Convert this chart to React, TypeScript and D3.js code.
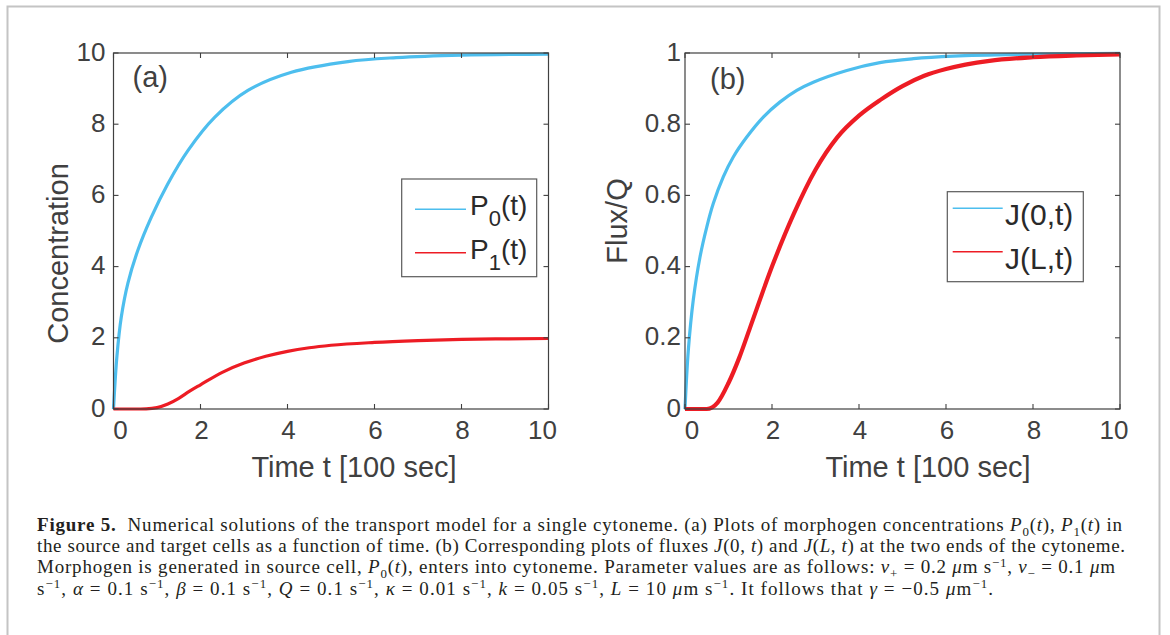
import React from 'react';
import * as d3 from 'd3';

// panel (a): concentrations
const timeP0 = [0, 0.08, 0.18, 0.33, 0.56, 0.87, 1.25, 1.71, 2.33, 3.09, 4.09, 5.39, 6.5, 8, 10];
const p0 = [0, 1.5, 2.59, 3.53, 4.46, 5.39, 6.33, 7.26, 8.2, 8.95, 9.46, 9.76, 9.87, 9.94, 9.97];
const timeP1 = [0, 0.5, 0.75, 1, 1.25, 1.5, 1.75, 2, 2.5, 3, 3.5, 4, 4.5, 5, 6, 7, 8, 9, 10];
const p1 = [0, 0, 0.005, 0.04, 0.14, 0.3, 0.5, 0.68, 1.03, 1.29, 1.48, 1.62, 1.72, 1.79, 1.87, 1.92, 1.955, 1.97, 1.98];

// panel (b): fluxes
const timeJ0 = [0, 0.077, 0.19, 0.345, 0.5, 0.65, 0.88, 1.11, 1.42, 1.8, 2.18, 2.57, 2.95, 3.72, 4.48, 5.25, 6.17, 7.7, 10];
const j0 = [0, 0.166, 0.306, 0.427, 0.511, 0.577, 0.652, 0.708, 0.764, 0.82, 0.862, 0.895, 0.918, 0.951, 0.973, 0.984, 0.991, 0.996, 0.999];
const timeJL = [0, 0.5, 0.75, 1, 1.25, 1.5, 2, 2.5, 3, 3.5, 4, 4.5, 5, 5.5, 6, 7, 8, 9, 10];
const jL = [0, 0, 0.018, 0.073, 0.145, 0.23, 0.4, 0.548, 0.672, 0.763, 0.824, 0.869, 0.907, 0.936, 0.955, 0.978, 0.988, 0.993, 0.996];

const xTicks = [0, 2, 4, 6, 8, 10];
const yTicksA = [0, 2, 4, 6, 8, 10];
const yTicksB = [0, 0.2, 0.4, 0.6, 0.8, 1];
const legendA = [['P', '0', '(t)'], ['P', '1', '(t)']];
const legendB = ['J(0,t)', 'J(L,t)'];

const BLUE = '#4DBEEE';
const RED = '#ED1C24';
const INK = '#404040';
const SANS = '"Liberation Sans", Arial, Helvetica, sans-serif';
const SERIF = '"Liberation Serif", "Times New Roman", serif';

type Seg = { t: string; i?: boolean; b?: boolean; sub?: boolean; sup?: boolean };

const caption: { segs: Seg[]; len: number }[] = [
  {
    len: 1085,
    segs: [
      { t: 'Figure 5.', b: true },
      { t: '  Numerical solutions of the transport model for a single cytoneme. (a) Plots of morphogen concentrations ' },
      { t: 'P', i: true }, { t: '0', sub: true }, { t: '(' }, { t: 't', i: true }, { t: '), ' },
      { t: 'P', i: true }, { t: '1', sub: true }, { t: '(' }, { t: 't', i: true }, { t: ') in' },
    ],
  },
  {
    len: 1088,
    segs: [
      { t: 'the source and target cells as a function of time. (b) Corresponding plots of fluxes ' },
      { t: 'J', i: true }, { t: '(0, ' }, { t: 't', i: true }, { t: ') and ' },
      { t: 'J', i: true }, { t: '(' }, { t: 'L', i: true }, { t: ', ' }, { t: 't', i: true },
      { t: ') at the two ends of the cytoneme.' },
    ],
  },
  {
    len: 1078,
    segs: [
      { t: 'Morphogen is generated in source cell, ' },
      { t: 'P', i: true }, { t: '0', sub: true }, { t: '(' }, { t: 't', i: true },
      { t: '), enters into cytoneme. Parameter values are as follows: ' },
      { t: 'ν', i: true }, { t: '+', sub: true }, { t: ' = 0.2 ' }, { t: 'μ', i: true }, { t: 'm s' },
      { t: '−1', sup: true }, { t: ', ' },
      { t: 'ν', i: true }, { t: '−', sub: true }, { t: ' = 0.1 ' }, { t: 'μ', i: true }, { t: 'm' },
    ],
  },
  {
    len: 956,
    segs: [
      { t: 's' }, { t: '−1', sup: true }, { t: ', ' },
      { t: 'α', i: true }, { t: ' = 0.1 s' }, { t: '−1', sup: true }, { t: ', ' },
      { t: 'β', i: true }, { t: ' = 0.1 s' }, { t: '−1', sup: true }, { t: ', ' },
      { t: 'Q', i: true }, { t: ' = 0.1 s' }, { t: '−1', sup: true }, { t: ', ' },
      { t: 'κ', i: true }, { t: ' = 0.01 s' }, { t: '−1', sup: true }, { t: ', ' },
      { t: 'k', i: true }, { t: ' = 0.05 s' }, { t: '−1', sup: true }, { t: ', ' },
      { t: 'L', i: true }, { t: ' = 10 ' }, { t: 'μ', i: true }, { t: 'm s' }, { t: '−1', sup: true },
      { t: '. It follows that ' },
      { t: 'γ', i: true }, { t: ' = −0.5 ' }, { t: 'μ', i: true }, { t: 'm' }, { t: '−1', sup: true }, { t: '.' },
    ],
  },
];

function RichLine({ segs, x, y, size, len }: { segs: Seg[]; x: number; y: number; size: number; len: number }) {
  let cur = 0;
  const nodes = segs.map((s, i) => {
    const target = s.sub ? size * 0.26 : s.sup ? -size * 0.36 : 0;
    const dy = target - cur;
    cur = target;
    return (
      <tspan
        key={i}
        dy={dy !== 0 ? dy : undefined}
        fontStyle={s.i ? 'italic' : undefined}
        fontWeight={s.b ? 'bold' : undefined}
        fontSize={s.sub || s.sup ? size * 0.68 : undefined}
      >
        {s.t}
      </tspan>
    );
  });
  return (
    <text x={x} y={y} fontSize={size} fontFamily={SERIF} fill="#231f20" textLength={len} lengthAdjust="spacing" style={{ whiteSpace: 'pre' }}>
      {nodes}
    </text>
  );
}

type Series = { t: number[]; v: number[]; color: string; width: number; smooth: boolean };

type PanelProps = {
  left: number;
  right: number;
  yMax: number;
  yTicks: number[];
  yFmt: (v: number) => string;
  yLabelGap: number;
  series: Series[];
  tag: string;
  tagX: number;
  tagY: number;
  yTitle: string;
  yTitleX: number;
  yTitleY: number;
  xTitleX: number;
};

const TOP = 53;
const BOTTOM = 409;

function Panel(p: PanelProps) {
  const x = d3.scaleLinear().domain([0, 10]).range([p.left, p.right]);
  const y = d3.scaleLinear().domain([0, p.yMax]).range([BOTTOM, TOP]);
  const tick = 5;
  return (
    <g>
      {p.series.map((s, k) => {
        const pts = s.t.map((t, i) => [t, s.v[i]] as [number, number]);
        const line = d3
          .line<[number, number]>()
          .x(d => x(d[0]))
          .y(d => y(d[1]))
          .curve(s.smooth ? d3.curveCatmullRom.alpha(0.5) : d3.curveMonotoneX);
        return <path key={k} d={line(pts) || ''} fill="none" stroke={s.color} strokeWidth={s.width} strokeLinejoin="round" />;
      })}
      <rect x={p.left} y={TOP} width={p.right - p.left} height={BOTTOM - TOP} fill="none" stroke={INK} strokeWidth={1.2} />
      {xTicks.map(t => (
        <g key={'x' + t}>
          <line x1={x(t)} x2={x(t)} y1={BOTTOM} y2={BOTTOM - tick} stroke={INK} strokeWidth={1.1} />
          <line x1={x(t)} x2={x(t)} y1={TOP} y2={TOP + tick} stroke={INK} strokeWidth={1.1} />
          <text
            x={x(t) + (t === 0 ? 7 : t === 10 ? -6 : 1)}
            y={BOTTOM + 29.5}
            textAnchor="middle"
            fontSize={26}
            fontFamily={SANS}
            fill={INK}
          >
            {t}
          </text>
        </g>
      ))}
      {p.yTicks.map(v => (
        <g key={'y' + v}>
          <line x1={p.left} x2={p.left + tick} y1={y(v)} y2={y(v)} stroke={INK} strokeWidth={1.1} />
          <line x1={p.right} x2={p.right - tick} y1={y(v)} y2={y(v)} stroke={INK} strokeWidth={1.1} />
          <text x={p.left - p.yLabelGap} y={y(v) + 7.5} textAnchor="end" fontSize={26} fontFamily={SANS} fill={INK}>
            {p.yFmt(v)}
          </text>
        </g>
      ))}
      <text x={p.tagX} y={p.tagY} fontSize={29} fontFamily={SANS} fill={INK}>
        {p.tag}
      </text>
      <text x={p.xTitleX} y={477} textAnchor="middle" fontSize={29} fontFamily={SANS} fill={INK}>
        Time t [100 sec]
      </text>
      <text
        transform={`translate(${p.yTitleX},${p.yTitleY}) rotate(-90)`}
        textAnchor="middle"
        fontSize={29}
        fontFamily={SANS}
        fill={INK}
      >
        {p.yTitle}
      </text>
    </g>
  );
}

export default function App() {
  const fmtB = (v: number) => (v === 0 || v === 1 ? String(v) : d3.format('.1f')(v));
  return (
    <div style={{ position: 'fixed', left: 0, top: 0 }}>
      <svg width={1170} height={635} style={{ display: 'block', background: '#fff' }}>
        <rect x={7.5} y={6.5} width={1152} height={700} fill="none" stroke="#c4c4c4" strokeWidth={2} />

        <Panel
          left={113.5}
          right={548.5}
          yMax={10}
          yTicks={yTicksA}
          yFmt={v => String(v)}
          yLabelGap={8}
          series={[
            { t: timeP0, v: p0, color: BLUE, width: 3.2, smooth: true },
            { t: timeP1, v: p1, color: RED, width: 3.2, smooth: false },
          ]}
          tag="(a)"
          tagX={132.5}
          tagY={87}
          yTitle="Concentration"
          yTitleX={68}
          yTitleY={253.5}
          xTitleX={354}
        />
        <Panel
          left={685}
          right={1120}
          yMax={1}
          yTicks={yTicksB}
          yFmt={fmtB}
          yLabelGap={4}
          series={[
            { t: timeJ0, v: j0, color: BLUE, width: 3.2, smooth: true },
            { t: timeJL, v: jL, color: RED, width: 4.2, smooth: false },
          ]}
          tag="(b)"
          tagX={710}
          tagY={89}
          yTitle="Flux/Q"
          yTitleX={627}
          yTitleY={221}
          xTitleX={928}
        />

        {/* legend (a) */}
        <g>
          <rect x={401.7} y={179} width={135} height={97.7} fill="#fff" stroke="#5a5a5a" strokeWidth={1.2} />
          {legendA.map((l, i) => {
            const ly = 209.3 + i * 43.4;
            return (
              <g key={i}>
                <line x1={415} x2={466} y1={ly} y2={ly} stroke={i === 0 ? BLUE : RED} strokeWidth={1.6} />
                <text x={470} y={ly + 6} fontSize={28} fontFamily={SANS} fill="#2a2a2a">
                  <tspan>{l[0]}</tspan>
                  <tspan fontSize={22} dy={11}>{l[1]}</tspan>
                  <tspan dy={-11}>{l[2]}</tspan>
                </text>
              </g>
            );
          })}
        </g>

        {/* legend (b) */}
        <g>
          <rect x={947.3} y={191.7} width={136} height={90} fill="#fff" stroke="#5a5a5a" strokeWidth={1.2} />
          {legendB.map((l, i) => {
            const ly = 208.3 + i * 43.4;
            return (
              <g key={i}>
                <line x1={952.7} x2={1002.7} y1={ly} y2={ly} stroke={i === 0 ? BLUE : RED} strokeWidth={1.6} />
                <text x={1005} y={ly + 17} fontSize={30} fontFamily={SANS} fill="#2a2a2a">
                  {l}
                </text>
              </g>
            );
          })}
        </g>

        {caption.map((c, i) => (
          <RichLine key={i} segs={c.segs} x={37} y={531 + i * 21.2} size={19} len={c.len} />
        ))}
      </svg>
    </div>
  );
}
